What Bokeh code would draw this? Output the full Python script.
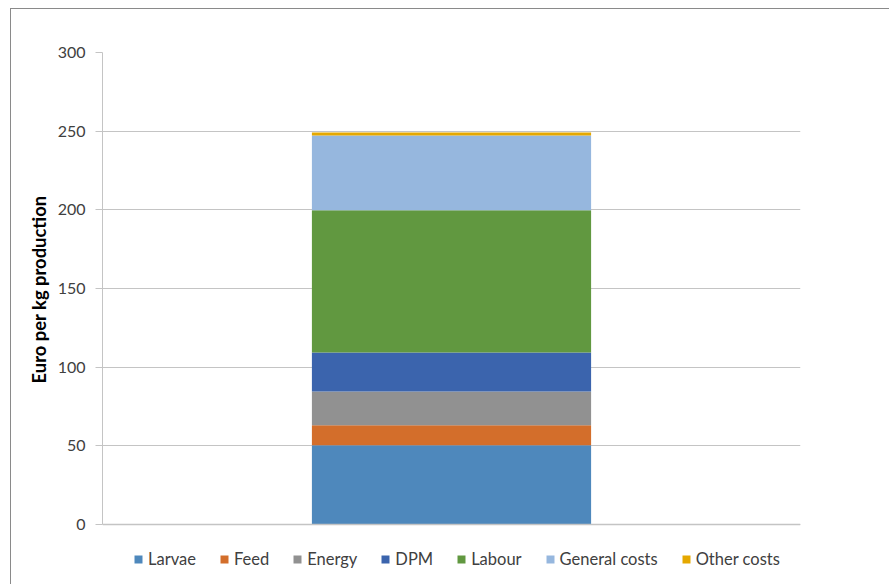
from bokeh.plotting import figure
from bokeh.models import ColumnDataSource, FactorRange, Range1d, FixedTicker, Legend, Span, Title
from bokeh.embed import file_html
from bokeh.resources import INLINE

# Cost components per kg of production (Euro)
cost_items = ["Larvae", "Feed", "Energy", "DPM", "Labour", "General costs", "Other costs"]
cost_values = [50.4, 12.7, 21.4, 24.8, 90.5, 47.5, 1.8]
bar_category = ["Production"]
y_ticks = [0, 50, 100, 150, 200, 250, 300]
y_title = "Euro per kg production"

colors = ["#4E88BC", "#D36E2B", "#919191", "#3B64AD", "#619840", "#96B7DE", "#E5A800"]

data = {"cat": bar_category}
for name, v in zip(cost_items, cost_values):
    data[name] = [v]
source = ColumnDataSource(data)

FONT = "Lato"
TEXT = "#404040"
GRID = "#c4c4c4"

# The frame runs down to the canvas bottom so the legend can sit beneath the bars;
# the axis line itself is bounded to 0..300.
p = figure(
    width=879, height=576,
    x_range=FactorRange(factors=bar_category, range_padding=0),
    y_range=Range1d(-38.8, 300),
    output_backend="svg", toolbar_location=None,
    min_border_left=91, min_border_right=90,
    min_border_top=43, min_border_bottom=0,
    margin=(8, 0, 0, 10),
    styles={"border-top": "1px solid #8a8a8a", "border-left": "1px solid #8a8a8a"},
)
p.outline_line_color = None
p.background_fill_color = "white"
p.border_fill_color = "white"

renderers = p.vbar_stack(cost_items, x="cat", width=0.4, color=colors,
                         line_color=None, source=source)

# y axis
p.yaxis.bounds = (0, 300)
p.yaxis.ticker = FixedTicker(ticks=y_ticks)
p.yaxis.axis_line_color = GRID
p.yaxis.major_tick_line_color = GRID
p.yaxis.major_tick_out = 7
p.yaxis.major_tick_in = 0
p.yaxis.minor_tick_line_color = None
p.yaxis.major_label_text_font = FONT
p.yaxis.major_label_text_font_size = "16px"
p.yaxis.major_label_text_color = TEXT
p.yaxis.major_label_standoff = 10

# axis title, pinned from the top of the frame so it sits beside the 0..300 span
p.add_layout(Title(text=y_title, align="right", offset=143, standoff=9,
                   text_font=FONT, text_font_size="18.4px", text_font_style="bold",
                   text_color="#000000"), "left")

p.xaxis.visible = False
p.xgrid.grid_line_color = None
p.ygrid.ticker = FixedTicker(ticks=y_ticks)
p.ygrid.grid_line_color = GRID
p.ygrid.grid_line_width = 1

# baseline
p.add_layout(Span(location=0, dimension="width", line_color=GRID, line_width=1.5))

legend = Legend(
    items=[(name, [r]) for name, r in zip(cost_items, renderers)],
    orientation="horizontal",
    location=(31, 16),
    glyph_width=10, glyph_height=10,
    label_standoff=5, spacing=23,
    padding=0, margin=0,
    label_text_font=FONT, label_text_font_size="16.5px",
    label_text_color=TEXT,
    border_line_color=None, background_fill_alpha=0,
)
p.add_layout(legend, "center")

open("out.html", "w").write(file_html(p, INLINE))
